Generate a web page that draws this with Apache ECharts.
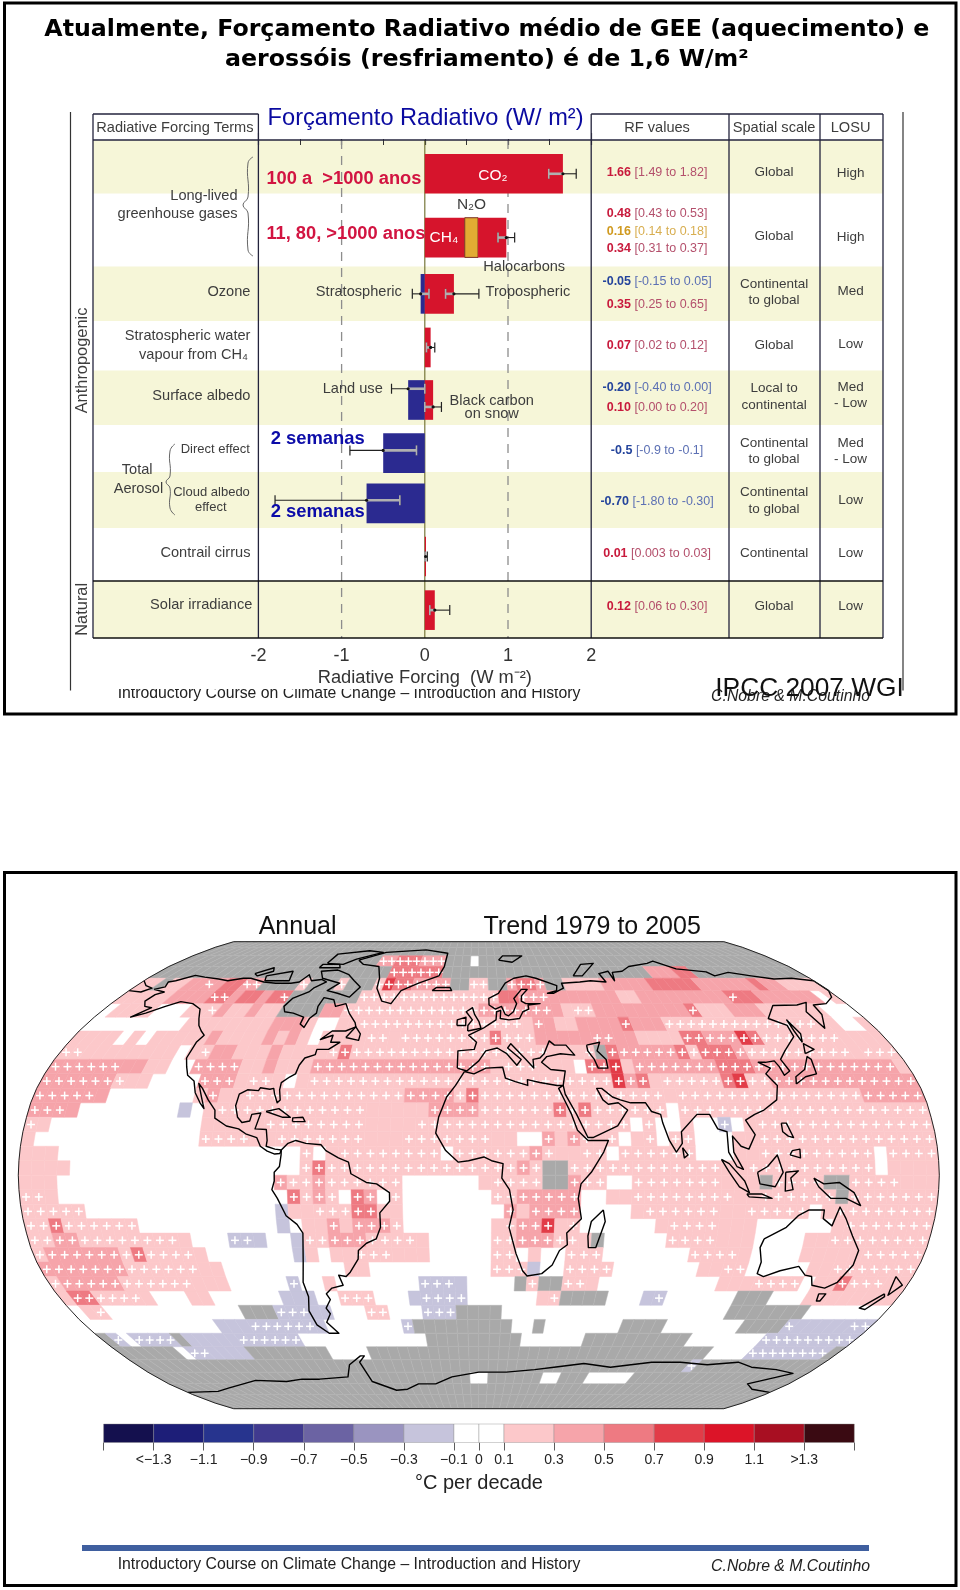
<!DOCTYPE html>
<html><head><meta charset="utf-8">
<style>html,body{margin:0;padding:0;background:#fff}#c{width:960px;height:1590px}</style>
<script src="https://cdn.jsdelivr.net/npm/echarts@6/dist/echarts.min.js"></script>
</head><body><div id="c"></div>
<script>
/* ---------- radiative forcing values (W/m2) ---------- */
const barNames  = ['CO2','CH4','N2O','Halocarbons','Stratospheric ozone','Tropospheric ozone','Stratospheric water','Land use','Black carbon','Direct effect','Cloud albedo','Contrail cirrus','Solar irradiance'];
const barStart  = [0,0,0.48,0.64,-0.05,0,0,-0.20,0,-0.5,-0.70,0,0];
const barEnd    = [1.66,0.48,0.64,0.98,0,0.35,0.07,0,0.10,0,0,0.01,0.12];
const barRow    = [0.63,1.82,1.82,1.82,2.87,2.87,3.87,4.85,4.85,5.84,6.78,7.77,8.77];
const whiskLow  = [1.49,0.88,-0.15,0.25,0.02,-0.40,0,-0.9,-1.8,0.003,0.06];
const whiskMean = [1.66,0.98,-0.05,0.35,0.07,-0.20,0.10,-0.5,-0.7,0.01,0.12];
const whiskHigh = [1.82,1.08,0.05,0.65,0.12,0,0.20,-0.1,-0.3,0.03,0.30];
const whiskRow  = [0.63,1.82,2.87,2.87,3.87,4.64,4.98,5.79,6.72,7.77,8.77];
const forcingTicks = [-2,-1,0,1,2];
const dashedRefs = [-1,1];

/* ---------- temperature trend per 5-degree cell, north to south, run-length coded ----------
   a b c d : +0.2 +0.4 +0.6 +0.8 C/decade, v : -0.2, . : near 0, g : missing; capitals are significant (+) */
const trendRows = [
"72g","72g",
"24g 2B 3C 3B 3g 1. 36g",
"26g 6C 23g 3b 2c 12g",
"2a 1g 2a 2b 1B 1b 2c 2B 4g 1A 3g 1A 3g 1A 1D 2C 4B 2g 2A 2g 1B 2C 1B 2g 4a 5b 5c 6b 1c 2b 4a",
"5a 4b 2C 1b 2c 1b 1c 1C 7g 14A 2c 3B 7b 2a 9b 1C 2c 6b 1. 1a",
"1. 4a 3. 2a 1A 1b 2a 1b 2a 4g 2b 13A 7B 1b 1a 2A 9b 1C 3a 3b 6a 3.",
"9. 8a 3b 1a 2. 2a 15A 1a 1B 1b 2a 4b 1C 3b 14A 2a 2. 1a",
"4a 1. 1a 1. 5a 1b 4a 1b 1a 1b 1a 1. 4a 2A 1a 7A 1A 1C 3A 5b 2B 2b 4a 2C 3B 1D 1C 7A 4a",
"2A 8a 1. 1a 1A 2b 3a 1b 4a 1A 1C 11A 6A 3a 1A 1g 1C 5B 1C 1A 3C 1B 9A 1a 3A",
"6B 2b 2a 2. 4B 2a 1b 3a 15B 1a 3A 3a 1. 2C 1D 1a 7B 3C 12B 1a",
"6B 1A 2a 4. 3B 1a 2A 1a 1. 1a 25A 1D 1B 1C 1a 5A 1C 1D 2A 12B",
"5B 1b 7. 1a 1B 2a 13A 4B 1A 1C 15A 1a 15A 5B",
"3B 1b 8. 1v 1. 1a 12A 5a 4B 6A 1C 1A 1C 6A 1. 20A",
"1A 1a 12. 5a 8A 4a 5A 12A 1. 1A 2. 1a 2. 1V 1. 1a 14A",
"1a 13. 4A 2a 7A 3a 4A 2A 1A 2a 2. 1B 1a 1B 1A 1a 1A 1. 1a 1A 1. 2A 3. 2a 14A",
"3a 19. 1A 1. 1a 8A 1. 3A 3A 1B 1A 2a 2A 1. 6A 3. 2a 9A 1. 4A",
"4a 18. 1A 1C 12A 3A 1B 1A 2g 12A 2a 10A 1. 4a",
"3a 17. 1B 2A 1B 6A 6. 1a 4A 2g 1B 2A 2. 7A 3a 1g 4A 2g 4A 3a",
"2A 1a 18. 1C 1A 1B 1A 1. 1C 1B 1. 1A 7. 2A 1B 4B 2. 2a 8A 2a 6A 1g 7A",
"5A 15. 1v 2a 3A 1C 1C 2a 8. 1B 1a 4B 4. 1a 6A 2a 5A 1. 1a 8A",
"2A 1C 6A 11. 1v 1. 2a 1B 1a 3B 1A 7. 1a 1A 2B 1D 1a 1A 6. 1a 4A 3a 6. 1a 7A",
"2A 2B 8A 1a 3. 2V 1v 2. 1v 1A 1A 3B 4A 1a 5. 2A 3B 2A 1a 1g 5. 4A 3a 4. 2a 8A",
"1A 6B 1A 1C 4A 1a 7. 1v 1a 1. 2a 3A 3a 5. 2A 1. 1a 2. 3A 7. 4A 1a 4. 5a 5A",
"7B 6A 2a 10. 2a 10. 3A 1v 2. 4A 7. 2a 2A 5. 2a 7A",
"1A 5B 6A 3a 5. 1V 2. 1a 7. 3V 1v 4. 1g 1A 2g 2A 1a 10. 3a 4A 1. 2a 1C 3A 2a",
"1a 2C 4A 1a 3. 2a 6. 3v 2. 3A 3. 1v 4V 6. 1a 1A 4g 3. 1v 1V 6. 3g 3. 8a",
"1. 1a 1A 12. 3g 3V 2v 3. 2A 3. 3V 4g 20. 7g 7.",
"12. 3v 6V 1v 7. 1V 9g 2. 1g 7. 4g 7. 4g 1V 5v 2V",
"1g 1V 1. 4V 1g 5v 6V 12. 9g 6. 10g 7. 9V",
"6g 1. 2V 4v 8g 4. 34g 4. 8V 1g",
"58g 1V 13g",
"35g 2. 6g 2. 3g 5. 19g",
"72g","72g","72g"];
const trendClassValue = {a:0.2,b:0.4,c:0.6,d:0.8,v:-0.2};

/* ---------- colour bar ---------- */
const binEdges  = [-1.5,-1.3,-1.1,-0.9,-0.7,-0.5,-0.3,-0.1,0,0.1,0.3,0.5,0.7,0.9,1.1,1.3,1.5];
const binColors = ['#14104e','#1d1e78','#27348e','#403a8f','#6b63a3','#9a94c0','#c6c4dc','#ffffff','#ffffff','#fcc8ca','#f6a4aa','#ee7a82','#e23c48','#dc1428','#a80f22','#3a0a12'];
const binLabels = [-1.3,-1.1,-0.9,-0.7,-0.5,-0.3,-0.1,0,0.1,0.3,0.5,0.7,0.9,1.1,1.3];

/* ---------- Robinson table, coastlines as lon/lat ---------- */
const robX = [1,.9986,.9954,.99,.9822,.973,.96,.9427,.9216,.8962,.8679,.835,.7986,.7597,.7186,.6732,.6213,.5722,.5322];
const robY = [0,.062,.124,.186,.248,.31,.372,.434,.4958,.5571,.6176,.6769,.7346,.7903,.8435,.8936,.9394,.9761,1];
const coastNorthAmerica = [-168,65.5,-164,66.5,-166,68.5,-163,69,-156.5,71.2,-150,70.5,-141,69.7,-135,69,-128,70,-124,70,-115,68.5,-108,68,-100,68,-96,68.5,-94,71.5,-90,69,-85,69.5,-81.5,68.5,-86,66,-87,64.5,-93,62,-94.5,59,-92.5,57,-88,56.5,-82,55,-82,52.5,-79.5,51.3,-79,54.5,-77,56.5,-78,59,-77.5,62.3,-72,61.5,-69.5,59,-65,60,-61.5,56.5,-57,53,-56,51.5,-60,50,-66,50,-70,47,-65,48.5,-65,46,-61,46,-65,43.5,-70,43.5,-70,41.7,-74,40.5,-75.5,38,-76,35,-78,34,-81,32,-81,29.5,-80,26,-81,25,-82.7,28,-83.5,30,-85,29.7,-89,30.2,-89.5,29.2,-94,29.5,-97,28,-97.5,24,-96,20,-94,18.2,-91,18.7,-90.5,21,-87,21.5,-87.8,18.5,-88.5,16,-84,15.8,-83.3,12,-83.5,10,-80,9,-77.5,8.7,-78,7.5,-80,7.3,-83,8.3,-85.8,10,-87.5,13,-92,14.3,-95,16,-100,17,-105,19.7,-105.5,22.5,-109,26,-112.5,30,-114.7,31.7,-112,27,-110,23,-112,25,-115,28.5,-117,32.5,-120.5,34.5,-122.5,37.5,-124.3,40.5,-124,46,-122.5,48.5,-125,50,-128,52,-130.5,54.5,-134,58,-140,60,-147,60.8,-152,59,-158,56.5,-163,55,-158,58.5,-162,59,-165,61,-164,63.5,-161,64.5,-168,65.5];
const coastBaffin = [-80,73.5,-72,71.5,-67,69,-62,66.5,-65,62.5,-72,64,-78,65,-74,68,-85,70,-89,73,-80,73.5];
const coastVictoria = [-117,71,-105,73,-102,69,-115,69,-117,71];
const coastEllesmere = [-90,76.5,-80,76,-75,78.5,-62,82,-72,83,-90,81,-90,76.5];
const coastBanks = [-125,72,-118,74.5,-116,73,-122,71,-125,72];
const coastDevon = [-92,74.5,-80,74.5,-82,76,-92,76,-92,74.5];
const coastNewfoundland = [-59,47.7,-53,46.7,-53,49,-56,51.5,-59,47.7];
const coastCuba = [-85,22,-80,23,-75,20,-78,20,-85,22];
const coastHispaniola = [-74,18.5,-69,18.5,-70,20,-74,19.8,-74,18.5];
const coastGreenland = [-73,78,-60,82,-35,83.5,-20,81.5,-20,75,-22,71,-32,68,-40,65,-43,60,-48,61,-53,66,-54,70,-58,75,-68,76,-73,78];
const coastSouthAmerica = [-77.5,8.7,-75,11,-72,12,-68,11,-62,10.5,-60,8.5,-55,6,-51,4.5,-50,0.5,-44,-2.5,-40,-3,-35,-6,-35,-9,-39,-13,-39,-18,-41,-22,-45,-23.5,-48.5,-26,-49,-29,-53,-33.5,-55,-35,-58,-34.5,-57,-38,-62,-39,-65,-41,-64,-43,-67,-46,-66,-48,-69,-51,-65.5,-55,-70,-55,-74,-52,-75,-47,-73,-42,-73.5,-37,-71.5,-30,-70,-20,-72,-17,-76,-14,-79,-8,-81,-5,-80,-2,-80,1,-78,3,-77.5,7,-77.5,8.7];
const coastAfrica = [-6,35.8,-2,35,3,37,10,37.3,11,33.5,15,32.3,20,31,20,33,25,32,32,31,34.5,31,32.5,30,34,27,37,21,39,15.5,43,12,51,12,49,8,44,1,40,-3,39,-8,40.5,-15,35,-20,35.5,-24,32.5,-26,30,-31,26,-34,20,-34.8,18,-33,15,-27,12,-18,13.5,-12,12,-5,9,-1,9.5,4,5,5,2,6.3,-4,5,-8,4.5,-13,8.5,-17,14.5,-16,20,-13,27,-9.5,31,-6,35.8];
const coastEurasia = [-9,37,-9,43,-2,43.5,-1,46,-4.5,48.5,2,51,4,52,8,54,8.5,57,10.5,57.5,10,54.5,14,54,19,54.5,21,57,24,58,24,59.5,30,60,23,60,21,61,21.5,63,25,65.5,22,65.5,17.5,62,18.5,60,16.5,57,14,55.5,12.5,56,11,59,8,58,5,59.5,5,62,10,64,14,68,19,70,26,71,31,70,41,67,40,65,35,64,38,64,44,66,44,68,54,68.5,60,69,68,68.5,67,72,73,73,73,69,75,72.5,81,73,87,75,100,76.5,105,77.5,113,74,128,72.7,130,71,140,72.5,150,71,160,69.7,170,70,180,69,180,65,177,62.5,170,60,163,59.5,162,56,157,51,156,57,161,60.5,155,59.5,143,59.3,135,54.5,141,52,140,48,132,43,128,40,129.5,36,126.5,34.5,126,37.5,125,39.5,121,39,118,39,122,37,119,35,122,31,120,26,114,22.5,110,21,106,19,109,14,106,9,103,10,100,13.5,100,8,103.5,2,101,3,98,8,98,15,94.5,16,92,21,87,21,80,15,80,11,77.5,8,75,12,73,18,72.5,21,69,22,67,25,61,25,57,26,54,27,50,30,48,30,50,26,52,24.5,56,25,59.5,22.5,55,17,45,13,43,13,39,21,35,28,34.5,31,36,36,30,36.5,26.5,39,29,41,35,42,41,41.5,38,45,33,45,31,46.5,28,42,26,40.5,23,40,23,37,20,40,14,45.5,12.5,44,18,40,16,38,12,42,8,44,3,43,0,39.5,-5,36,-9,37];
const coastChukotka = [-180,69,-175,67,-170,66,-173,64.5,-180,65];
const coastCaspian = [47,45,53,46,51,43,54,40,54,37,50,37,49,40,47,43,47,45];
const coastBritain = [-5,50,1,51,0,53.5,-2,56,-3,58.5,-6,57,-3,54,-5,52,-5,50];
const coastIreland = [-10,52,-6,52,-6,55,-10,54,-10,52];
const coastIceland = [-24,65,-14,65,-15,66.3,-22,66.3,-24,65];
const coastNovaya = [52,71,57,71,68,76.5,60,76,52,71];
const coastSvalbard = [12,78,20,77,27,80,15,80,12,78];
const coastHonshu = [130,31.5,135,34,140,35,141,40,140,41,136,36.5,131,34,130,31.5];
const coastHokkaido = [140,42,145,43.5,142,45.5,140,42];
const coastSakhalin = [142,46,144,49,143,54,142,50,142,46];
const coastLuzon = [120,18,122,18,124,13,122,13.5,120,15,120,18];
const coastMindanao = [122,7,126,6,126,9,123,8.5,122,7];
const coastSumatra = [95,5.5,98,4,104,-2,106,-6,102,-4,98,1,95,5.5];
const coastJava = [105,-6.5,111,-6.5,115,-8,106,-7.5,105,-6.5];
const coastBorneo = [109,1,113,3,117,7,119,1,116,-4,110,-3,109,1];
const coastSulawesi = [120,1,125,1.5,122,-1,123,-5,120,-5.5,120,1];
const coastNewGuinea = [131,-1,135,-3,141,-2.5,147,-6,150,-10.5,144,-8,138,-8,133,-4,131,-1];
const coastSriLanka = [80,9.5,82,7,80.5,6,80,9.5];
const coastAustralia = [114,-22,122,-18,126,-14,130,-12,136,-12,136,-15,140,-17.5,142,-11,145,-15,149,-21,153,-26,153,-31,150,-37,146,-39,140,-38,138,-35,135,-34.5,131,-31.5,124,-33,118,-35,115,-34,115,-30,113,-25,114,-22];
const coastTasmania = [145,-41,148,-41,147.5,-43.5,146,-43.5,145,-41];
const coastNZNorth = [173,-35,178,-38,175,-41.5,174,-39,173,-35];
const coastNZSouth = [173,-41,174,-42,170,-46.5,167,-46,173,-41];
const coastMadagascar = [49,-12,50,-16,47,-25,44,-25,43.5,-21,44.5,-16,49,-12];
const coastAntarctica = [-180,-79,-160,-78.5,-150,-77,-127,-73.5,-110,-74,-100,-73,-90,-73,-73,-72,-68,-67,-60,-63.5,-58,-63.5,-62,-66,-61,-74,-50,-78,-43,-77.5,-35,-75,-25,-75,-15,-72,0,-70,15,-70,30,-69,40,-68,55,-66.5,70,-68,80,-67,90,-66,105,-66,120,-67,135,-66,145,-68,160,-69,172,-70.5,156,-75,165,-77.5,180,-79];
const coasts = [coastNorthAmerica,coastBaffin,coastVictoria,coastEllesmere,coastBanks,coastDevon,coastNewfoundland,coastCuba,coastHispaniola,coastGreenland,coastSouthAmerica,coastAfrica,coastEurasia,coastChukotka,coastCaspian,coastBritain,coastIreland,coastIceland,coastNovaya,coastSvalbard,coastHonshu,coastHokkaido,coastSakhalin,coastLuzon,coastMindanao,coastSumatra,coastJava,coastBorneo,coastSulawesi,coastNewGuinea,coastSriLanka,coastAustralia,coastTasmania,coastNZNorth,coastNZSouth,coastMadagascar,coastAntarctica];

/* ---------- helpers ---------- */
function project(lon,lat){
  const a=Math.min(Math.abs(lat)/5,18), i=Math.min(Math.floor(a),17), t=a-i;
  const X=robX[i]+(robX[i+1]-robX[i])*t, Y=robY[i]+(robY[i+1]-robY[i])*t;
  return [X*lon/180,(lat<0?-1:1)*Y];
}
function binColor(v){ for(let i=0;i<binColors.length;i++){ if(v>=binEdges[i]&&v<binEdges[i+1]) return binColors[i]; } return '#fff'; }
const cellData=[];
trendRows.forEach((row,r)=>{ let c=0;
  row.split(' ').forEach(tok=>{ const n=parseInt(tok), k=tok[tok.length-1];
    for(let j=0;j<n&&c<72;j++,c++){
      if(k==='.') continue;
      const low=k.toLowerCase();
      cellData.push([c,r,low==='g'?null:trendClassValue[low],(k!==low)?1:0]);
    }});
});

const SX=1.633, SY=2.15, SANS='"Liberation Sans",Arial,sans-serif', GREY='#3d3d3d';
function T(text,zx,zy,o){o=o||{};
  return {type:'text',x:zx/SX,y:(zy+(o.panel2?860*SY:0))/SY,z:o.z==null?50:o.z,rotation:o.rot||0,silent:true,
    style:{text,fill:o.c||GREY,fontFamily:o.f||SANS,fontSize:o.s||14.6,fontWeight:o.w||'normal',fontStyle:o.i||'normal',
      align:o.a||'center',verticalAlign:'middle',rich:o.rich}};
}
function R(x,y,w,h,fill,z){return {type:'rect',silent:true,z:z==null?-1:z,shape:{x,y,width:w,height:h},style:{fill}};}
function L(x1,y1,x2,y2,c,w,z){return {type:'line',silent:true,z:z==null?5:z,shape:{x1,y1,x2,y2},style:{stroke:c||'#23233c',lineWidth:w||1.3}};}
function brace(pts){return {type:'polyline',silent:true,z:5,shape:{points:pts,smooth:0.5},style:{stroke:'#666',lineWidth:1,fill:null}};}

const g=[];
/* frames */
g.push({type:'rect',silent:true,z:60,shape:{x:4.5,y:3,width:951.5,height:711},style:{fill:null,stroke:'#000',lineWidth:3}});
g.push({type:'rect',silent:true,z:60,shape:{x:4.5,y:872.5,width:951.5,height:713},style:{fill:null,stroke:'#000',lineWidth:3}});
/* clipped footer of the upper slide */
g.push(T('Introductory Course on Climate Change – Introduction and History',570,1491,{s:15.8,c:'#222',z:-3}));
g.push(T('C.Nobre & M.Coutinho',1291,1497,{s:15.8,i:'italic',c:'#222',z:-3}));
g.push(R(60,600,860,89,'#fff',-2));
/* title */
const TF='"DejaVu Sans",sans-serif';
g.push(T('Atualmente, Forçamento Radiativo médio de GEE (aquecimento) e',795,65,{f:TF,s:23.7,w:'bold',c:'#000'}));
g.push(T('aerossóis (resfriamento) é de 1,6 W/m²',795,129,{f:TF,s:23.7,w:'bold',c:'#000'}));
/* table bands */
const YEL='#f6f6d8';
[[140,193.5],[266.5,321],[370.5,425],[472,528],[581,638]].forEach(b=>g.push(R(93,b[0],790,b[1]-b[0],YEL)));
/* table lines */
[93,258.4,591.2,729,820,883].forEach(x=>g.push(L(x,114,x,638)));
g.push(L(70.5,112,70.5,690.5,'#333',1.2),L(903,112,903,690.5,'#333',1.2));
g.push(L(93,114,258.4,114),L(591.2,114,883,114),L(93,140,883,140,'#23233c',1.6),L(93,581,883,581,'#111',1.4),L(93,638,883,638,'#111',1.6));
g.push(R(258.4+1,100,331.8,39,'#fff',4));
/* headers */
g.push(T('Radiative Forcing Terms',285.6,276));
g.push(T('RF values',1073,276),T('Spatial scale',1264,276),T('LOSU',1389,276));
g.push(T('Forçamento Radiativo (W/ m²)',695,254,{s:23.6,c:'#0a0aa0'}));
/* row labels */
const RL=(t,zy,zx,s)=>T(t,zx||409,zy,{a:'right',s});
g.push(RL('Long-lived',422,388),RL('greenhouse gases',461,388),RL('Ozone',628),RL('Stratospheric water',722),RL('vapour from CH₄',763,405),RL('Surface albedo',852),RL('Direct effect',966,408,13),RL('Cloud albedo',1058,408,13),RL('effect',1092,370,13),RL('Contrail cirrus',1188),RL('Solar irradiance',1301,412));
g.push(T('Total',224,1010),T('Aerosol',226,1051));
g.push(T('Anthropogenic',134,775,{rot:Math.PI/2,s:16.4}),T('Natural',134,1310,{rot:Math.PI/2,s:16.4}));
g.push(brace([[253,157],[248,163],[248,197],[243,205],[248,213],[248,250],[253,256]]));
g.push(brace([[175,444],[170,451],[170,476],[166,482],[170,488],[170,508],[175,515]]));
/* plot labels */
const RED='#d21441', BLUE='#0c0ca8';
g.push(T('100 a  >1000 anos',435,384,{a:'left',s:18.3,w:'bold',c:RED}),T('11, 80, >1000 anos',435,503,{a:'left',s:18.3,w:'bold',c:RED}));
g.push(T('2 semanas',442,944,{a:'left',s:18.4,w:'bold',c:BLUE}),T('2 semanas',442,1100,{a:'left',s:18.4,w:'bold',c:BLUE}));
g.push(T('CO₂',805,378,{c:'#fff',s:15.5}),T('CH₄',725,512,{c:'#fff',s:15.5}),T('N₂O',770,440,{s:15.5}));
g.push(T('Halocarbons',856,574),T('Stratospheric',586,628),T('Tropospheric',862,628),T('Land use',576,836),T('Black carbon',803,862),T('on snow',803,890));
/* RF values */
const rfRich={r:{fontFamily:SANS,fontSize:12.5,fontWeight:'bold',fill:'#c81a3c'},rr:{fontFamily:SANS,fontSize:12.5,fill:'#b4506c'},
  b:{fontFamily:SANS,fontSize:12.5,fontWeight:'bold',fill:'#24449c'},bb:{fontFamily:SANS,fontSize:12.5,fill:'#5c70b4'},
  o:{fontFamily:SANS,fontSize:12.5,fontWeight:'bold',fill:'#d09a20'},oo:{fontFamily:SANS,fontSize:12.5,fill:'#d8ae50'}};
[['r','1.66','1.49 to 1.82',372],['r','0.48','0.43 to 0.53',460],['o','0.16','0.14 to 0.18',498],['r','0.34','0.31 to 0.37',534],['b','-0.05','-0.15 to 0.05',605],['r','0.35','0.25 to 0.65',655],['r','0.07','0.02 to 0.12',742],['b','-0.20','-0.40 to 0.00',834],['r','0.10','0.00 to 0.20',877],['b','-0.5','-0.9 to -0.1',968],['b','-0.70','-1.80 to -0.30',1078],['r','0.01','0.003 to 0.03',1190],['r','0.12','0.06 to 0.30',1305]]
 .forEach(a=>g.push(T(`{${a[0]}|${a[1]}} {${a[0]}${a[0]}|[${a[2]}]}`,1073,a[3],{s:12.5,rich:rfRich})));
/* spatial scale */
[['Global',370],['Global',508],['Continental',611],['to global',646],['Global',742],['Local to',835],['continental',871],['Continental',952],['to global',987],['Continental',1058],['to global',1095],['Continental',1190],['Global',1303]]
 .forEach(a=>g.push(T(a[0],1264,a[1],{s:13.5})));
[['High',372],['High',510],['Med',627],['Low',741],['Med',833],['- Low',867],['Med',952],['- Low',987],['Low',1075],['Low',1190],['Low',1303]]
 .forEach(a=>g.push(T(a[0],1389,a[1],{s:13.5})));
g.push(T('IPCC 2007 WGI',1322,1481,{s:26.3,c:'#111',z:55}));
/* lower slide */
g.push(T('Annual',486,144,{panel2:1,s:25,c:'#111'}),T('Trend 1979 to 2005',967,144,{panel2:1,s:25,c:'#111'}));
g.push(R(82,1545,787,6,'#3f5f9f',5));
g.push(T('Introductory Course on Climate Change – Introduction and History',570,1515,{panel2:1,s:15.8,c:'#222'}));
g.push(T('C.Nobre & M.Coutinho',1291,1520,{panel2:1,s:15.8,i:'italic',c:'#222'}));

/* ---------- series ---------- */
function barColor(i){ return barEnd[i]<=0?'#2b2a90':(barNames[i]==='N2O'?'#e2ab33':'#d6142c'); }
const series=[
 { type:'custom',xAxisIndex:0,yAxisIndex:0,silent:true,z:1,clip:false,data:dashedRefs.map(v=>[v]),encode:{x:0},
   renderItem:(p,api)=>{const a=api.coord([api.value(0),0]),b=api.coord([api.value(0),9.29]);
     return {type:'line',shape:{x1:a[0],y1:a[1],x2:b[0],y2:b[1]},style:{stroke:'#8d8d8d',lineWidth:1.3,lineDash:[9,7]}};}},
 { type:'custom',xAxisIndex:0,yAxisIndex:0,silent:true,z:1,clip:false,data:[[0]],encode:{x:0},
   renderItem:(p,api)=>{const a=api.coord([0,0]),b=api.coord([0,9.29]);
     return {type:'line',shape:{x1:a[0],y1:a[1],x2:b[0],y2:b[1]},style:{stroke:'#77773a',lineWidth:1.2}};}},
 { type:'custom',name:'Radiative forcing',xAxisIndex:0,yAxisIndex:0,silent:true,z:3,clip:false,
   data:barNames.map((n,i)=>[barStart[i],barEnd[i],barRow[i],i]),encode:{x:[0,1],y:2},
   renderItem:(p,api)=>{const i=api.value(3),a=api.coord([api.value(0),api.value(2)-0.37]),b=api.coord([api.value(1),api.value(2)+0.37]);
     return {type:'rect',shape:{x:a[0],y:a[1],width:Math.max(b[0]-a[0],1.2),height:b[1]-a[1]},style:{fill:barColor(i),stroke:barNames[i]==='N2O'?'#7a3020':null,lineWidth:1}};}},
 { type:'custom',name:'Uncertainty',xAxisIndex:0,yAxisIndex:0,silent:true,z:4,clip:false,
   data:whiskLow.map((v,i)=>[v,whiskMean[i],whiskHigh[i],whiskRow[i]]),encode:{x:[0,2],y:3},
   renderItem:(p,api)=>{const y=api.value(3),lo=api.coord([api.value(0),y]),m=api.coord([api.value(1),y]),hi=api.coord([api.value(2),y]);
     const ln=(x1,y1,x2,y2,c,w)=>({type:'line',shape:{x1,y1,x2,y2},style:{stroke:c,lineWidth:w}});
     const inner=api.value(1)<0?hi:lo;
     return {type:'group',children:[
       ln(lo[0],lo[1],hi[0],hi[1],'#222',1.1),ln(lo[0],lo[1]-5,lo[0],lo[1]+5,'#222',1.2),ln(hi[0],hi[1]-5,hi[0],hi[1]+5,'#222',1.2),
       ln(inner[0],y<0?0:inner[1],m[0],m[1],'#b0b0b0',2.6),ln(inner[0],inner[1]-5,inner[0],inner[1]+5,'#b0b0b0',1.6),
       {type:'circle',shape:{cx:m[0],cy:m[1],r:1.6},style:{fill:'#111'}}]};}},
 { type:'custom',name:'Trend',xAxisIndex:2,yAxisIndex:1,silent:true,z:2,clip:false,progressive:0,
   data:cellData,encode:{x:0,y:1},dimensions:['col','row','trend','sig'],
   renderItem:(p,api)=>{
     const c=api.value(0),r=api.value(1),v=api.value(2),sig=api.value(3);
     const lon0=-180+c*5,lat0=90-r*5;
     const pts=[[lon0,lat0],[lon0+5,lat0],[lon0+5,lat0-5],[lon0,lat0-5]].map(q=>api.coord(project(q[0],q[1])));
     const fill=isNaN(v)?'#a9a9a9':binColor(v);
     const kids=[{type:'polygon',shape:{points:pts},style:{fill,stroke:isNaN(v)?'#b2b2b2':fill,lineWidth:0.5}}];
     if(sig){const m=api.coord(project(lon0+2.5,lat0-2.5)),k=4;
       kids.push({type:'line',shape:{x1:m[0]-k,y1:m[1],x2:m[0]+k,y2:m[1]},style:{stroke:'#fff',lineWidth:1.5}},
                 {type:'line',shape:{x1:m[0],y1:m[1]-k,x2:m[0],y2:m[1]+k},style:{stroke:'#fff',lineWidth:1.5}});}
     return {type:'group',children:kids};}},
 { type:'custom',name:'Coast',xAxisIndex:2,yAxisIndex:1,silent:true,z:3,clip:false,
   data:coasts.map((c,i)=>[0,0,i]),encode:{x:0,y:1},
   renderItem:(p,api)=>{const a=coasts[api.value(2)],pts=[];
     for(let i=0;i<a.length;i+=2)pts.push(api.coord(project(a[i],a[i+1])));
     return {type:'polyline',shape:{points:pts},style:{stroke:'#000',lineWidth:1.4,fill:null,lineJoin:'round'}};}},
 { type:'custom',name:'Outline',xAxisIndex:2,yAxisIndex:1,silent:true,z:4,clip:false,data:[[0,0]],encode:{x:0,y:1},
   renderItem:(p,api)=>{const pts=[];
     for(let l=90;l>=-90;l-=5)pts.push(api.coord(project(-180,l)));
     for(let l=-90;l<=90;l+=5)pts.push(api.coord(project(180,l)));
     return {type:'polygon',shape:{points:pts},style:{stroke:'#222',lineWidth:1,fill:null}};}},
 { type:'custom',name:'Colour bar',xAxisIndex:3,yAxisIndex:2,silent:true,z:2,clip:false,
   data:binColors.map((c,i)=>[binEdges[i],binEdges[i+1],i]),encode:{x:[0,1]},
   renderItem:(p,api)=>{const a=api.coord([api.value(0),1]),b=api.coord([api.value(1),0]),c=binColors[api.value(2)];
     return {type:'rect',shape:{x:a[0],y:a[1],width:b[0]-a[0],height:b[1]-a[1]},style:{fill:c,stroke:'#8a8a8a',lineWidth:0.4}};}}
];

const chart=echarts.init(document.getElementById('c'),null,{renderer:'canvas'});
chart.setOption({
 animation:false,backgroundColor:'#fff',
 grid:[{left:258.4,width:332.8,top:140,height:498,show:false},
       {left:18.3,width:921,top:941.7,height:467,show:false},
       {left:103.6,width:750.7,top:1424,height:18.5,show:false}],
 xAxis:[
  {gridIndex:0,type:'value',min:-2,max:2,interval:1,position:'bottom',
   axisLine:{show:false},splitLine:{show:false},
   axisTick:{show:true,inside:true,length:7,lineStyle:{color:'#333',width:1.2}},
   minorTick:{show:true,splitNumber:2,length:7,lineStyle:{color:'#333',width:1}},
   axisLabel:{show:true,margin:9,color:'#333',fontFamily:SANS,fontSize:18,customValues:forcingTicks},
   name:'Radiative Forcing  (W m⁻²)',nameLocation:'middle',nameGap:31,nameTextStyle:{fontFamily:SANS,fontSize:18.3,color:'#333'}},
  {gridIndex:0,type:'value',min:-2,max:2,interval:1,position:'top',
   axisLine:{show:false},splitLine:{show:false},axisLabel:{show:false},
   axisTick:{show:true,inside:true,length:5,lineStyle:{color:'#333',width:1.2}},
   minorTick:{show:true,splitNumber:2,length:5,lineStyle:{color:'#333',width:1}}},
  {gridIndex:1,type:'value',min:-1,max:1,show:false},
  {gridIndex:2,type:'value',min:-1.5,max:1.5,position:'bottom',
   axisLine:{show:false},splitLine:{show:false},
   axisTick:{show:true,length:8,customValues:binEdges,lineStyle:{color:'#333',width:0.8}},
   axisLabel:{show:true,margin:11,color:'#222',fontFamily:SANS,fontSize:14,customValues:binLabels,hideOverlap:false,
     formatter:v=>{v=+(+v).toFixed(1); return v<=-1.3?'<−1.3':v>=1.3?'>1.3':(v<0?'−'+(-v):String(v));}},
   name:'°C per decade',nameLocation:'middle',nameGap:31,nameTextStyle:{fontFamily:SANS,fontSize:20,color:'#222'}}
 ],
 yAxis:[
  {gridIndex:0,type:'value',min:0,max:9.29,inverse:true,show:false},
  {gridIndex:1,type:'value',min:-1,max:1,show:false},
  {gridIndex:2,type:'value',min:0,max:1,show:false}
 ],
 graphic:{elements:g},
 series
});
</script></body></html>
